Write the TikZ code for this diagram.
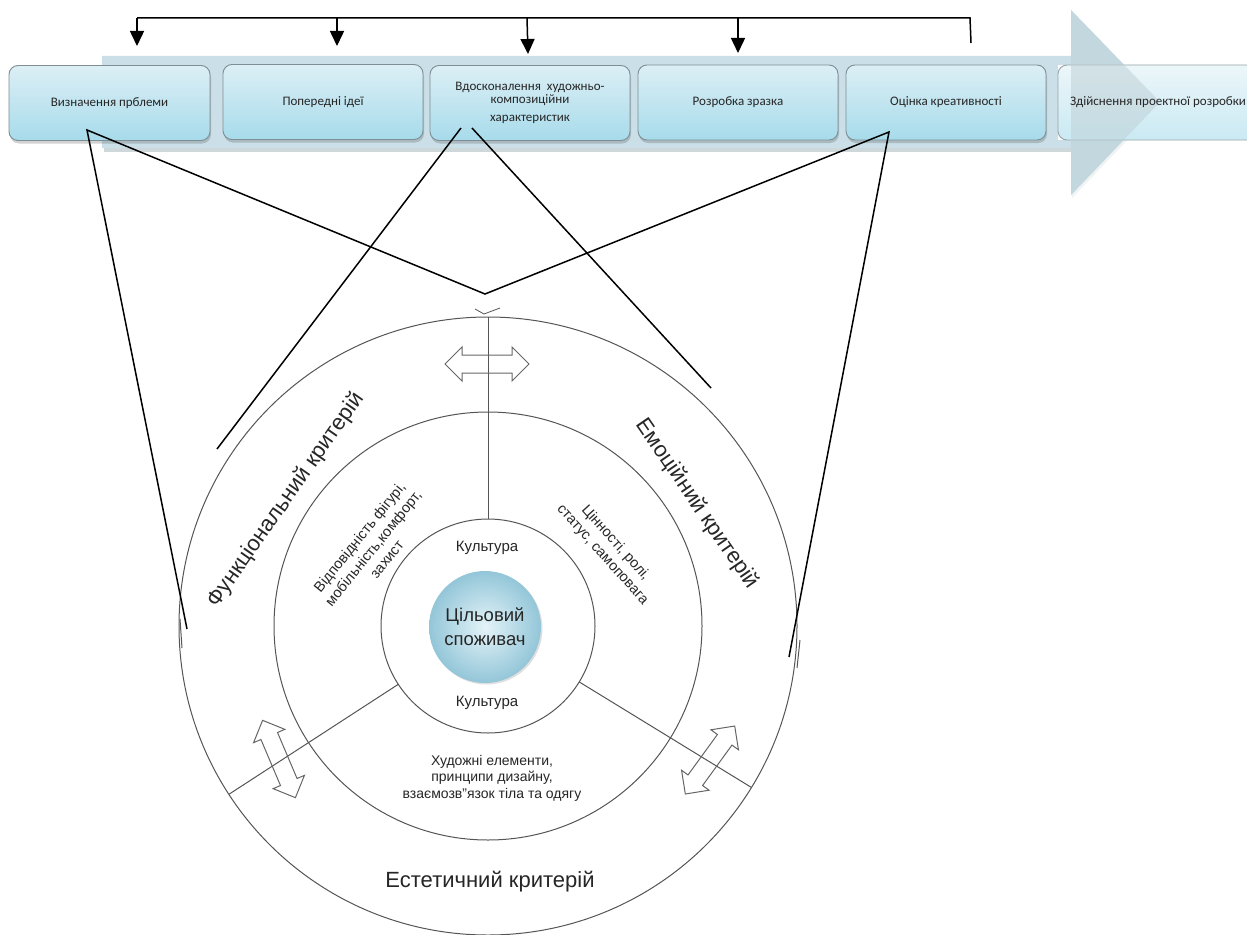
\documentclass[tikz,border=0pt]{standalone}
\usepackage{fontspec}
\setmainfont{Liberation Sans}
\newfontfamily\boxfont{Carlito}
\usetikzlibrary{arrows.meta,shadows}
\definecolor{bandc}{HTML}{CADFE7}
\definecolor{bandsh}{HTML}{9FB0B6}
\definecolor{boxtop}{HTML}{DCEFF5}
\definecolor{boxbot}{HTML}{A7DBEB}
\definecolor{boxline}{HTML}{7E8E94}
\definecolor{ringc}{HTML}{555555}
\definecolor{txtc}{HTML}{262626}
\definecolor{coreIn}{HTML}{E4F3F8}
\definecolor{coreOut}{HTML}{93C6D8}
\tikzset{
  stagebox/.style={draw=boxline, line width=0.9pt, rounded corners=9pt,
    top color=boxtop, bottom color=boxbot, minimum width=200pt, minimum height=75pt,
    font=\boxfont\fontsize{13}{14.5}\selectfont, text=black!85, align=center, inner sep=2pt,
    drop shadow={shadow xshift=1pt, shadow yshift=-3pt, opacity=0.25, fill=black!70}},
  stagetext/.style={font=\boxfont\fontsize{13}{14.5}\selectfont, text=black!85, align=center},
  conn/.style={line width=1.5pt, black},
  bracketarrow/.style={line width=1.5pt, black, -{Triangle[length=15pt,width=14pt]}},
  ring/.style={line width=1pt, ringc},
  hollow/.style={line width=1pt, draw=black!60},
  big/.style={font=\fontsize{22}{26}\selectfont, text=txtc},
  small/.style={font=\fontsize{14.5}{17.5}\selectfont, text=txtc, align=center},
}
\begin{document}
\begin{tikzpicture}[x=1pt,y=-1pt]
\useasboundingbox (0,0) rectangle (1247,934);
\clip (0,0) rectangle (1247,934);
\fill[white] (0,0) rectangle (1247,934);

% ---- process band (big arrow) ----
\fill[bandsh, opacity=0.5] (104,60) rectangle (1071,152);
\fill[bandsh, opacity=0.15] (1072,13) -- (1161,105) -- (1072,198) -- cycle;
\fill[bandc] (102,56) -- (1071,56) -- (1071,10) -- (1160,102) -- (1071,195) -- (1071,148) -- (102,148) -- cycle;

% ---- stage boxes ----
\node[stagebox, minimum width=201pt] (s1) at (109.5,103) {Визначення прблеми};
\node[stagebox] (s2) at (323,102) {Попередні ідеї};
\node[stagebox] (s3) at (530,103) {Вдосконалення\ \ художньо-\\[-2pt]композиційни\\[4pt]характеристик};
\node[stagebox] (s4) at (738,102.5) {Розробка зразка};
\node[stagebox] (s5) at (946,102.5) {Оцінка креативності};
% last stage: pale box partly under the arrow head
\fill[white] (1058,65) rectangle (1260,140);
\path[draw=boxline!80, line width=0.9pt, rounded corners=9pt, top color=boxtop!55, bottom color=boxbot!60]
  (1058,65) rectangle (1260,140);
\fill[bandc!85!gray, opacity=0.55] (1071,65) -- (1071,10) -- (1160,102) -- (1071,195) -- (1071,140) -- cycle;
\node[stagetext] (s6) at (1158,102.5) {Здійснення проектної розробки};

% ---- top bracket ----
\coordinate (t0) at (137,18);
\coordinate (t1) at (337,18);
\coordinate (t2) at (527,18);
\coordinate (t3) at (738,18);
\coordinate (t4) at (970,18);
\coordinate (e4) at (971,43);
\coordinate (a1) at (137,46);
\coordinate (a2) at (337,46);
\coordinate (a3) at (528,54);
\coordinate (a4) at (738,53);
\draw[conn] (e4) -- (t4) -- (t0);
\draw[bracketarrow] (t0) -- (a1);
\draw[bracketarrow] (t1) -- (a2);
\draw[bracketarrow] (t2) -- (a3);
\draw[bracketarrow] (t3) -- (a4);

% ---- circles ----
\coordinate (O) at (488,626);
\draw[ring] (O) circle[radius=309];
\draw[ring] (O) circle[radius=214];
\draw[ring] (O) circle[radius=107];
% small doubled strokes on the outer ring
\draw[ring] (180,619) -- (182,648);
\draw[ring] (800,640) -- (797,668);
% tick at the top
\draw[ring, line width=0.8pt] (475,309) -- (484,314) -- (500,308);

% dividers
\coordinate (dt1) at (488,317);
\coordinate (dt2) at (488,519);
\coordinate (dl1) at (398.3,684.3);
\coordinate (dl2) at (228.9,794.3);
\coordinate (dr1) at (579.2,681.9);
\coordinate (dr2) at (751.5,787.5);
\draw[ring] (dt1) -- (dt2);
\draw[ring] (dl1) -- (dl2);
\draw[ring] (dr1) -- (dr2);

% hollow double arrows
\foreach \cx/\cy/\ang in {487/364/0, 279/759/-67, 710/760/54}{
  \begin{scope}[shift={(\cx,\cy)}, rotate=\ang]
    \draw[hollow] (-42,0) -- (-25,17) -- (-25,9) -- (25,9) -- (25,17) -- (42,0)
      -- (25,-17) -- (25,-9) -- (-25,-9) -- (-25,-17) -- cycle;
  \end{scope}
}

% centre
\node[circle, minimum size=112pt, inner sep=0pt, inner color=coreIn, outer color=coreOut,
  drop shadow={shadow xshift=1.5pt, shadow yshift=-1.5pt, opacity=0.25, fill=black!50},
  align=center, font=\fontsize{18.5}{24}\selectfont, text=txtc] (core) at (485,627) {Цільовий\\споживач};

% texts
\node[font=\fontsize{15}{18}\selectfont, text=txtc] (k1) at (487,548) {Культура};
\node[font=\fontsize{15}{18}\selectfont, text=txtc] (k2) at (487,703) {Культура};
\node[big, rotate=55] (fun) at (286,500) {Функціональний критерій};
\node[big, rotate=-55.5] (emo) at (697,504) {Емоційний критерій};
\node[big] (est) at (490,882) {Естетичний критерій};
\node[small, rotate=51] (fn2) at (373,548) {Відповідність фігурі,\\мобільність,комфорт,\\захист};
\node[small, rotate=-48] (em2) at (609,549) {Цінності, ролі,\\статус, самоповага};
\node[font=\fontsize{14}{16.5}\selectfont, text=txtc, align=center] (es2) at (492,778) {Художні елементи,\\принципи дизайну,\\взаємозв"язок тіла та одягу};

% ---- connectors from stages to the model ----
\coordinate (p1) at (87,130);
\coordinate (p3a) at (461,128);
\coordinate (p3b) at (472,128);
\coordinate (p5) at (889,132);
\coordinate (v) at (485,294);
\coordinate (q1) at (187,629);
\coordinate (q3a) at (217,449);
\coordinate (q3b) at (711,388);
\coordinate (q5) at (789,657);
\draw[conn] (q1) -- (p1) -- (v) -- (p5) -- (q5);
\draw[conn] (q3a) -- (p3a);
\draw[conn] (p3b) -- (q3b);
\end{tikzpicture}
\end{document}
